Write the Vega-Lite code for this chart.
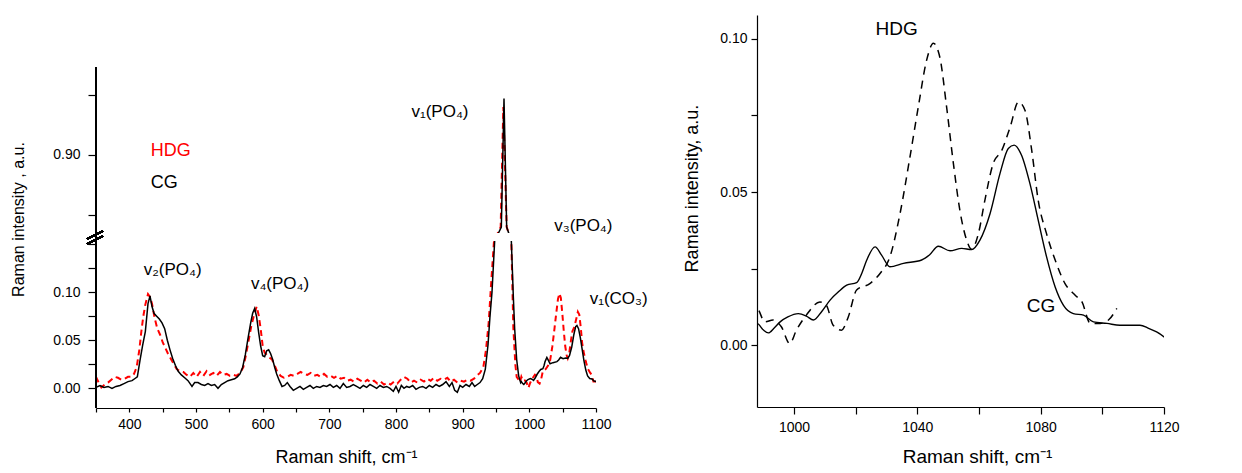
{
  "$schema": "https://vega.github.io/schema/vega-lite/v6.json",
  "background": "white",
  "padding": {"left": 10, "top": 15, "right": 0, "bottom": 0},
  "config": {
    "view": {"stroke": null},
    "font": "Liberation Sans",
    "axis": {"domainColor": "#000", "tickColor": "#000", "labelColor": "#000", "titleColor": "#000", "grid": false, "labelFont": "Liberation Sans", "titleFont": "Liberation Sans", "titleFontWeight": "normal", "domainWidth": 1.2, "tickWidth": 1.2}
  },
  "datasets": {
    "spectra": [
      {"s":"CG","x":350,"y":0.001},{"s":"CG","x":356,"y":0.003},{"s":"CG","x":362,"y":0.001},{"s":"CG","x":368,"y":0.002},{"s":"CG","x":374,"y":0.0},{"s":"CG","x":380,"y":0.002},{"s":"CG","x":386,"y":0.003},{"s":"CG","x":392,"y":0.005},{"s":"CG","x":398,"y":0.007},{"s":"CG","x":404,"y":0.008},{"s":"CG","x":408,"y":0.010},{"s":"CG","x":412,"y":0.012},{"s":"CG","x":416,"y":0.029},{"s":"CG","x":420,"y":0.045},{"s":"CG","x":424,"y":0.059},{"s":"CG","x":428,"y":0.088},{"s":"CG","x":431,"y":0.096},{"s":"CG","x":434,"y":0.085},{"s":"CG","x":437,"y":0.078},{"s":"CG","x":441,"y":0.075},{"s":"CG","x":445,"y":0.072},{"s":"CG","x":449,"y":0.068},{"s":"CG","x":453,"y":0.062},{"s":"CG","x":457,"y":0.050},{"s":"CG","x":461,"y":0.040},{"s":"CG","x":465,"y":0.031},{"s":"CG","x":469,"y":0.024},{"s":"CG","x":473,"y":0.018},{"s":"CG","x":478,"y":0.014},{"s":"CG","x":483,"y":0.011},{"s":"CG","x":488,"y":0.008},{"s":"CG","x":494,"y":0.002},{"s":"CG","x":498,"y":0.006},{"s":"CG","x":503,"y":0.006},{"s":"CG","x":508,"y":0.004},{"s":"CG","x":513,"y":0.003},{"s":"CG","x":518,"y":0.005},{"s":"CG","x":523,"y":0.003},{"s":"CG","x":528,"y":0.004},{"s":"CG","x":533,"y":0.000},{"s":"CG","x":538,"y":0.004},{"s":"CG","x":543,"y":0.006},{"s":"CG","x":548,"y":0.008},{"s":"CG","x":553,"y":0.009},{"s":"CG","x":558,"y":0.010},{"s":"CG","x":562,"y":0.012},{"s":"CG","x":566,"y":0.015},{"s":"CG","x":570,"y":0.022},{"s":"CG","x":574,"y":0.035},{"s":"CG","x":578,"y":0.052},{"s":"CG","x":582,"y":0.068},{"s":"CG","x":585,"y":0.078},{"s":"CG","x":588,"y":0.083},{"s":"CG","x":591,"y":0.074},{"s":"CG","x":594,"y":0.058},{"s":"CG","x":597,"y":0.044},{"s":"CG","x":600,"y":0.034},{"s":"CG","x":603,"y":0.033},{"s":"CG","x":606,"y":0.039},{"s":"CG","x":609,"y":0.040},{"s":"CG","x":612,"y":0.036},{"s":"CG","x":615,"y":0.030},{"s":"CG","x":618,"y":0.022},{"s":"CG","x":621,"y":0.015},{"s":"CG","x":625,"y":0.008},{"s":"CG","x":629,"y":0.002},{"s":"CG","x":633,"y":0.003},{"s":"CG","x":637,"y":0.006},{"s":"CG","x":641,"y":0.002},{"s":"CG","x":646,"y":-0.002},{"s":"CG","x":651,"y":0.000},{"s":"CG","x":656,"y":0.002},{"s":"CG","x":661,"y":-0.001},{"s":"CG","x":666,"y":0.001},{"s":"CG","x":671,"y":0.003},{"s":"CG","x":676,"y":0.000},{"s":"CG","x":681,"y":0.002},{"s":"CG","x":686,"y":0.001},{"s":"CG","x":691,"y":0.003},{"s":"CG","x":696,"y":0.002},{"s":"CG","x":701,"y":0.004},{"s":"CG","x":706,"y":0.001},{"s":"CG","x":711,"y":0.003},{"s":"CG","x":716,"y":0.000},{"s":"CG","x":721,"y":0.005},{"s":"CG","x":726,"y":0.001},{"s":"CG","x":731,"y":0.002},{"s":"CG","x":736,"y":0.004},{"s":"CG","x":741,"y":0.002},{"s":"CG","x":746,"y":0.000},{"s":"CG","x":751,"y":0.003},{"s":"CG","x":756,"y":0.001},{"s":"CG","x":761,"y":0.004},{"s":"CG","x":766,"y":0.002},{"s":"CG","x":771,"y":0.000},{"s":"CG","x":776,"y":0.003},{"s":"CG","x":781,"y":0.001},{"s":"CG","x":786,"y":0.002},{"s":"CG","x":791,"y":0.000},{"s":"CG","x":796,"y":-0.003},{"s":"CG","x":800,"y":0.002},{"s":"CG","x":804,"y":-0.004},{"s":"CG","x":808,"y":0.003},{"s":"CG","x":812,"y":0.000},{"s":"CG","x":816,"y":0.002},{"s":"CG","x":820,"y":0.001},{"s":"CG","x":825,"y":0.003},{"s":"CG","x":830,"y":-0.001},{"s":"CG","x":835,"y":0.001},{"s":"CG","x":840,"y":0.002},{"s":"CG","x":845,"y":0.000},{"s":"CG","x":850,"y":0.003},{"s":"CG","x":855,"y":0.001},{"s":"CG","x":860,"y":0.004},{"s":"CG","x":865,"y":0.002},{"s":"CG","x":870,"y":0.004},{"s":"CG","x":875,"y":0.007},{"s":"CG","x":880,"y":0.002},{"s":"CG","x":884,"y":0.006},{"s":"CG","x":888,"y":-0.002},{"s":"CG","x":892,"y":-0.004},{"s":"CG","x":896,"y":0.003},{"s":"CG","x":900,"y":0.001},{"s":"CG","x":905,"y":0.004},{"s":"CG","x":910,"y":0.002},{"s":"CG","x":914,"y":0.006},{"s":"CG","x":918,"y":0.002},{"s":"CG","x":922,"y":0.004},{"s":"CG","x":926,"y":0.006},{"s":"CG","x":930,"y":0.010},{"s":"CG","x":934,"y":0.020},{"s":"CG","x":938,"y":0.045},{"s":"CG","x":941,"y":0.075},{"s":"CG","x":944,"y":0.100},{"s":"CG","x":948,"y":0.160},{"s":"CG","x":958,"y":0.840},{"s":"CG","x":962,"y":0.947},{"s":"CG","x":966,"y":0.840},{"s":"CG","x":973,"y":0.160},{"s":"CG","x":976,"y":0.095},{"s":"CG","x":978,"y":0.062},{"s":"CG","x":981,"y":0.030},{"s":"CG","x":984,"y":0.013},{"s":"CG","x":987,"y":0.006},
      {"s":"CG","x":988,"y":0.0071},{"s":"CG","x":990,"y":0.0050},{"s":"CG","x":991.7,"y":0.0040},{"s":"CG","x":993.5,"y":0.0055},{"s":"CG","x":995.5,"y":0.0076},{"s":"CG","x":998,"y":0.0092},{"s":"CG","x":1001.4,"y":0.0103},{"s":"CG","x":1004,"y":0.0095},{"s":"CG","x":1006.3,"y":0.0082},{"s":"CG","x":1009,"y":0.0110},{"s":"CG","x":1011.7,"y":0.0147},{"s":"CG","x":1014.5,"y":0.0175},{"s":"CG","x":1017.1,"y":0.0196},{"s":"CG","x":1020.3,"y":0.0204},{"s":"CG","x":1022,"y":0.0235},{"s":"CG","x":1023.6,"y":0.0278},{"s":"CG","x":1026.3,"y":0.0321},{"s":"CG","x":1028.4,"y":0.0294},{"s":"CG","x":1031.1,"y":0.0256},{"s":"CG","x":1035.5,"y":0.0267},{"s":"CG","x":1041.4,"y":0.0278},{"s":"CG","x":1044,"y":0.0295},{"s":"CG","x":1046.8,"y":0.0323},{"s":"CG","x":1050.6,"y":0.0308},{"s":"CG","x":1054.4,"y":0.0316},{"s":"CG","x":1057.6,"y":0.0312},{"s":"CG","x":1060.3,"y":0.0343},{"s":"CG","x":1063.6,"y":0.0430},{"s":"CG","x":1066.8,"y":0.0560},{"s":"CG","x":1069.5,"y":0.0642},{"s":"CG","x":1071.4,"y":0.0653},{"s":"CG","x":1073.8,"y":0.0620},{"s":"CG","x":1076.5,"y":0.0528},{"s":"CG","x":1079.2,"y":0.0408},{"s":"CG","x":1081.9,"y":0.0289},{"s":"CG","x":1084.7,"y":0.0190},{"s":"CG","x":1087.4,"y":0.0130},{"s":"CG","x":1090.6,"y":0.0103},{"s":"CG","x":1093.9,"y":0.0098},{"s":"CG","x":1097.1,"y":0.0076},{"s":"CG","x":1101.5,"y":0.0071},{"s":"CG","x":1105.7,"y":0.0065},{"s":"CG","x":1112.2,"y":0.0065},{"s":"CG","x":1115,"y":0.0055},{"s":"CG","x":1117.6,"y":0.0043},{"s":"CG","x":1120.3,"y":0.0025},
      {"s":"HDG","x":350,"y":0.012},{"s":"HDG","x":354,"y":0.006},{"s":"HDG","x":358,"y":0.001},{"s":"HDG","x":363,"y":0.004},{"s":"HDG","x":368,"y":0.006},{"s":"HDG","x":373,"y":0.009},{"s":"HDG","x":378,"y":0.012},{"s":"HDG","x":383,"y":0.011},{"s":"HDG","x":388,"y":0.009},{"s":"HDG","x":393,"y":0.010},{"s":"HDG","x":398,"y":0.012},{"s":"HDG","x":403,"y":0.012},{"s":"HDG","x":407,"y":0.015},{"s":"HDG","x":411,"y":0.022},{"s":"HDG","x":415,"y":0.040},{"s":"HDG","x":418,"y":0.059},{"s":"HDG","x":421,"y":0.075},{"s":"HDG","x":424,"y":0.087},{"s":"HDG","x":428,"y":0.098},{"s":"HDG","x":431,"y":0.095},{"s":"HDG","x":434,"y":0.088},{"s":"HDG","x":438,"y":0.073},{"s":"HDG","x":442,"y":0.062},{"s":"HDG","x":446,"y":0.056},{"s":"HDG","x":450,"y":0.048},{"s":"HDG","x":454,"y":0.042},{"s":"HDG","x":458,"y":0.036},{"s":"HDG","x":462,"y":0.031},{"s":"HDG","x":466,"y":0.026},{"s":"HDG","x":471,"y":0.020},{"s":"HDG","x":476,"y":0.018},{"s":"HDG","x":481,"y":0.017},{"s":"HDG","x":486,"y":0.014},{"s":"HDG","x":491,"y":0.012},{"s":"HDG","x":496,"y":0.016},{"s":"HDG","x":501,"y":0.012},{"s":"HDG","x":506,"y":0.017},{"s":"HDG","x":511,"y":0.013},{"s":"HDG","x":516,"y":0.018},{"s":"HDG","x":521,"y":0.014},{"s":"HDG","x":526,"y":0.016},{"s":"HDG","x":531,"y":0.013},{"s":"HDG","x":536,"y":0.017},{"s":"HDG","x":541,"y":0.014},{"s":"HDG","x":546,"y":0.015},{"s":"HDG","x":551,"y":0.013},{"s":"HDG","x":556,"y":0.014},{"s":"HDG","x":561,"y":0.013},{"s":"HDG","x":566,"y":0.016},{"s":"HDG","x":571,"y":0.022},{"s":"HDG","x":575,"y":0.035},{"s":"HDG","x":579,"y":0.050},{"s":"HDG","x":583,"y":0.065},{"s":"HDG","x":587,"y":0.076},{"s":"HDG","x":591,"y":0.085},{"s":"HDG","x":594,"y":0.076},{"s":"HDG","x":597,"y":0.062},{"s":"HDG","x":600,"y":0.044},{"s":"HDG","x":603,"y":0.037},{"s":"HDG","x":606,"y":0.035},{"s":"HDG","x":610,"y":0.032},{"s":"HDG","x":614,"y":0.030},{"s":"HDG","x":618,"y":0.024},{"s":"HDG","x":622,"y":0.017},{"s":"HDG","x":627,"y":0.013},{"s":"HDG","x":632,"y":0.011},{"s":"HDG","x":637,"y":0.012},{"s":"HDG","x":642,"y":0.014},{"s":"HDG","x":647,"y":0.013},{"s":"HDG","x":652,"y":0.015},{"s":"HDG","x":657,"y":0.017},{"s":"HDG","x":662,"y":0.015},{"s":"HDG","x":667,"y":0.014},{"s":"HDG","x":672,"y":0.016},{"s":"HDG","x":677,"y":0.013},{"s":"HDG","x":682,"y":0.014},{"s":"HDG","x":687,"y":0.012},{"s":"HDG","x":692,"y":0.015},{"s":"HDG","x":697,"y":0.012},{"s":"HDG","x":702,"y":0.013},{"s":"HDG","x":707,"y":0.011},{"s":"HDG","x":712,"y":0.013},{"s":"HDG","x":717,"y":0.010},{"s":"HDG","x":722,"y":0.011},{"s":"HDG","x":727,"y":0.008},{"s":"HDG","x":732,"y":0.009},{"s":"HDG","x":737,"y":0.007},{"s":"HDG","x":742,"y":0.010},{"s":"HDG","x":747,"y":0.008},{"s":"HDG","x":752,"y":0.006},{"s":"HDG","x":757,"y":0.009},{"s":"HDG","x":762,"y":0.006},{"s":"HDG","x":767,"y":0.008},{"s":"HDG","x":772,"y":0.005},{"s":"HDG","x":777,"y":0.007},{"s":"HDG","x":782,"y":0.004},{"s":"HDG","x":787,"y":0.006},{"s":"HDG","x":792,"y":0.004},{"s":"HDG","x":797,"y":0.007},{"s":"HDG","x":802,"y":0.005},{"s":"HDG","x":807,"y":0.009},{"s":"HDG","x":812,"y":0.012},{"s":"HDG","x":817,"y":0.010},{"s":"HDG","x":822,"y":0.006},{"s":"HDG","x":827,"y":0.008},{"s":"HDG","x":832,"y":0.006},{"s":"HDG","x":837,"y":0.009},{"s":"HDG","x":842,"y":0.007},{"s":"HDG","x":847,"y":0.010},{"s":"HDG","x":852,"y":0.008},{"s":"HDG","x":857,"y":0.011},{"s":"HDG","x":862,"y":0.008},{"s":"HDG","x":867,"y":0.010},{"s":"HDG","x":872,"y":0.009},{"s":"HDG","x":877,"y":0.011},{"s":"HDG","x":882,"y":0.007},{"s":"HDG","x":887,"y":0.009},{"s":"HDG","x":892,"y":0.006},{"s":"HDG","x":897,"y":0.008},{"s":"HDG","x":902,"y":0.007},{"s":"HDG","x":907,"y":0.009},{"s":"HDG","x":912,"y":0.008},{"s":"HDG","x":917,"y":0.010},{"s":"HDG","x":921,"y":0.013},{"s":"HDG","x":926,"y":0.016},{"s":"HDG","x":931,"y":0.022},{"s":"HDG","x":935,"y":0.040},{"s":"HDG","x":939,"y":0.068},{"s":"HDG","x":943,"y":0.112},{"s":"HDG","x":947,"y":0.160},{"s":"HDG","x":957,"y":0.840},{"s":"HDG","x":961,"y":0.940},{"s":"HDG","x":966,"y":0.840},{"s":"HDG","x":973,"y":0.160},{"s":"HDG","x":976,"y":0.063},{"s":"HDG","x":979,"y":0.025},{"s":"HDG","x":981,"y":0.012},{"s":"HDG","x":984,"y":0.009},{"s":"HDG","x":986,"y":0.0065},
      {"s":"HDG","x":988,"y":0.0120},{"s":"HDG","x":990.5,"y":0.0076},{"s":"HDG","x":993.2,"y":0.0082},{"s":"HDG","x":995.9,"y":0.0060},{"s":"HDG","x":998.6,"y":0.0005},{"s":"HDG","x":1000.8,"y":0.0049},{"s":"HDG","x":1004,"y":0.0098},{"s":"HDG","x":1008.4,"y":0.0141},{"s":"HDG","x":1010.5,"y":0.0130},{"s":"HDG","x":1012.7,"y":0.0065},{"s":"HDG","x":1015.4,"y":0.0049},{"s":"HDG","x":1017.6,"y":0.0092},{"s":"HDG","x":1020.3,"y":0.0180},{"s":"HDG","x":1024.6,"y":0.0201},{"s":"HDG","x":1027.9,"y":0.0234},{"s":"HDG","x":1031.1,"y":0.0288},{"s":"HDG","x":1034.4,"y":0.0430},{"s":"HDG","x":1037.6,"y":0.0614},{"s":"HDG","x":1040.3,"y":0.0777},{"s":"HDG","x":1043,"y":0.0930},{"s":"HDG","x":1045.2,"y":0.0986},{"s":"HDG","x":1047.3,"y":0.0940},{"s":"HDG","x":1049.5,"y":0.0777},{"s":"HDG","x":1051.7,"y":0.0593},{"s":"HDG","x":1053.8,"y":0.0440},{"s":"HDG","x":1056,"y":0.0343},{"s":"HDG","x":1057.6,"y":0.0313},{"s":"HDG","x":1059.8,"y":0.0364},{"s":"HDG","x":1061.9,"y":0.0473},{"s":"HDG","x":1064.6,"y":0.0593},{"s":"HDG","x":1067.4,"y":0.0636},{"s":"HDG","x":1070.1,"y":0.0712},{"s":"HDG","x":1072.8,"y":0.0794},{"s":"HDG","x":1074.9,"y":0.0767},{"s":"HDG","x":1077.1,"y":0.0636},{"s":"HDG","x":1079.2,"y":0.0473},{"s":"HDG","x":1081.9,"y":0.0364},{"s":"HDG","x":1084.7,"y":0.0278},{"s":"HDG","x":1087.9,"y":0.0201},{"s":"HDG","x":1091.2,"y":0.0163},{"s":"HDG","x":1093.4,"y":0.0141},{"s":"HDG","x":1096.1,"y":0.0071},{"s":"HDG","x":1099.3,"y":0.0071},{"s":"HDG","x":1102,"y":0.0082},{"s":"HDG","x":1104.7,"y":0.0120}
    ],
    "labels": [
      {"panel":"left","label":"v₂(PO₄)","x":465,"y":0.118,"s":"CG"},
      {"panel":"left","label":"v₄(PO₄)","x":626,"y":0.103,"s":"CG"},
      {"panel":"left","label":"v₁(CO₃)","x":1134,"y":0.088,"s":"CG"},
      {"panel":"left","label":"v₁(PO₄)","x":866,"y":0.932,"s":"CG"},
      {"panel":"left","label":"v₃(PO₄)","x":1081,"y":0.8365,"s":"CG"},
      {"panel":"legend","label":"HDG","x":432,"y":0.899,"s":"HDG"},
      {"panel":"legend","label":"CG","x":432,"y":0.8725,"s":"CG"},
      {"panel":"right","label":"HDG","x":1033.3,"y":0.1012,"s":"HDG"},
      {"panel":"right","label":"CG","x":1080.1,"y":0.0107,"s":"CG"}
    ]
  },
  "spacing": 161,
  "bounds": "flush",
  "hconcat": [
    {
      "width": 500, "height": 393,
      "data": {"name": "spectra"},
      "encoding": {
        "x": {"field": "x", "type": "quantitative", "scale": {"domain": [350, 1100], "nice": false, "zero": false},
          "axis": {"values": [350,400,450,500,550,600,650,700,750,800,850,900,950,1000,1050,1100], "format": "d", "labelExpr": "datum.value % 100 === 0 ? datum.label : ''", "labelFontSize": 14, "tickSize": 4, "labelPadding": 5, "labelFlush": false, "labelOverlap": false,
            "title": "Raman shift, cm⁻¹", "titleFontSize": 18, "titleX": 250, "titleY": 54, "titleAlign": "center", "titleBaseline": "alphabetic"}},
        "y": {"field": "y", "type": "quantitative",
          "scale": {"domain": [-0.0204, 0.1531, 0.835, 0.9733], "range": [393, 226, 218, 52], "nice": false, "zero": false},
          "axis": {"values": [0, 0.025, 0.05, 0.075, 0.1, 0.125, 0.15, 0.85, 0.9, 0.95], "format": ".2f", "labelExpr": "indexof(['0.00','0.05','0.10','0.90'], datum.label) >= 0 ? datum.label : ''", "labelFontSize": 14, "tickSize": 8, "labelPadding": 8, "labelOverlap": false, "domain": false,
            "title": "Raman intensity , a.u.", "titleFontSize": 16, "titleAngle": -90, "titleX": -78, "titleY": 204, "titleAlign": "center", "titleBaseline": "middle"}}
      },
      "layer": [
        {"transform": [{"filter": "datum.s === 'HDG'"}], "mark": {"type": "line", "color": "#ff0000", "strokeWidth": 2, "strokeDash": [6, 4], "clip": true}},
        {"transform": [{"filter": "datum.s === 'CG'"}], "mark": {"type": "line", "color": "#000000", "strokeWidth": 1.5, "clip": true}},
        {"mark": {"type": "rect", "color": "#ffffff", "strokeWidth": 0}, "encoding": {"x": {"datum": 920}, "x2": {"datum": 1000}, "y": {"datum": 0.1531}, "y2": {"datum": 0.835}}},
        {"data": {"name": "labels"}, "transform": [{"filter": "datum.panel === 'left'"}], "mark": {"type": "text", "fontSize": 17, "align": "center", "baseline": "alphabetic", "color": "#000"}, "encoding": {"text": {"field": "label"}}},
        {"data": {"name": "labels"}, "transform": [{"filter": "datum.panel === 'legend'"}], "mark": {"type": "text", "fontSize": 18, "align": "left", "baseline": "alphabetic"},
          "encoding": {"text": {"field": "label"}, "color": {"field": "s", "type": "nominal", "scale": {"domain": ["CG", "HDG"], "range": ["#000000", "#ff0000"]}, "legend": null}}},
        {"mark": {"type": "rule", "color": "#000", "strokeWidth": 1.2}, "encoding": {"x": {"datum": 350}, "y": {"datum": -0.0204}, "y2": {"datum": 0.9733}}},
        {"mark": {"type": "rule", "color": "#000", "strokeWidth": 1.2}, "encoding": {"x": {"datum": 336.5}, "x2": {"datum": 360.5}, "y": {"datum": 0.3236}, "y2": {"datum": 0.8366}}},
        {"mark": {"type": "rule", "color": "#000", "strokeWidth": 1.2}, "encoding": {"x": {"datum": 336.5}, "x2": {"datum": 360.5}, "y": {"datum": 0.1500}, "y2": {"datum": 0.5793}}}
      ]
    },
    {
      "width": 407, "height": 392,
      "data": {"name": "spectra"},
      "encoding": {
        "x": {"field": "x", "type": "quantitative", "scale": {"domain": [988, 1120], "nice": false, "zero": false},
          "axis": {"values": [1000,1020,1040,1060,1080,1100,1120], "format": "d", "labelExpr": "datum.value % 40 === 0 ? datum.label : ''", "labelFontSize": 14, "tickSize": 7, "labelPadding": 6, "labelFlush": false, "labelOverlap": false,
            "title": "Raman shift, cm⁻¹", "titleFontSize": 19, "titleX": 220, "titleY": 55, "titleAlign": "center", "titleBaseline": "alphabetic"}},
        "y": {"field": "y", "type": "quantitative", "scale": {"domain": [-0.0202, 0.1078], "nice": false, "zero": false},
          "axis": {"values": [0, 0.025, 0.05, 0.075, 0.1], "format": ".2f", "labelExpr": "indexof(['0.00','0.05','0.10'], datum.label) >= 0 ? datum.label : ''", "labelFontSize": 14, "tickSize": 6, "labelPadding": 4, "labelOverlap": false,
            "title": "Raman intensity, a.u.", "titleFontSize": 18, "titleAngle": -90, "titleX": -65, "titleY": 173, "titleAlign": "center", "titleBaseline": "middle"}}
      },
      "layer": [
        {"transform": [{"filter": "datum.s === 'HDG'"}], "mark": {"type": "line", "color": "#000000", "strokeWidth": 1.5, "strokeDash": [8, 6], "interpolate": "monotone", "clip": true}},
        {"transform": [{"filter": "datum.s === 'CG'"}], "mark": {"type": "line", "color": "#000000", "strokeWidth": 1.4, "interpolate": "monotone", "clip": true}},
        {"data": {"name": "labels"}, "transform": [{"filter": "datum.panel === 'right'"}], "mark": {"type": "text", "fontSize": 19, "align": "center", "baseline": "alphabetic", "color": "#000"}, "encoding": {"text": {"field": "label"}}}
      ]
    }
  ]
}
